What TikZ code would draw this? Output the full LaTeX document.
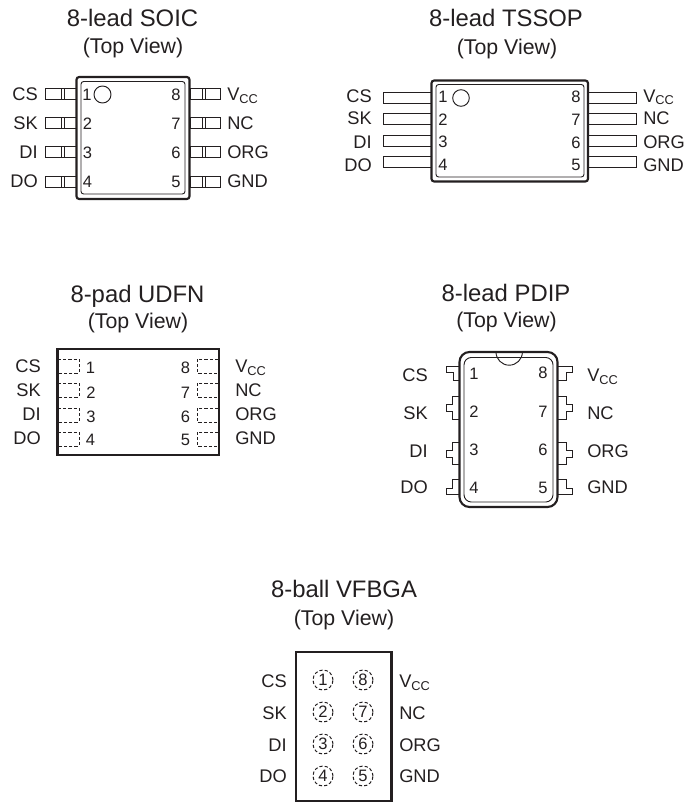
\documentclass[tikz,border=0pt]{standalone}
\usepackage{fontspec}
\setmainfont{Liberation Sans}
\usepackage{xcolor}
\definecolor{inkline}{HTML}{231F20}
\tikzset{
  titletext/.style={inner sep=0pt,text=inkline,font=\fontsize{17.9}{20}\selectfont,text height=12.8pt,text depth=0pt},
  viewtext/.style={inner sep=0pt,text=inkline,font=\fontsize{16}{18}\selectfont,text height=11.5pt,text depth=0pt},
  pinname/.style={inner sep=0pt,text=inkline,font=\fontsize{13.7}{16}\selectfont,text height=9.8pt,text depth=0pt},
  pinleft/.style={pinname,anchor=east},
  pinright/.style={pinname,anchor=west},
  pinnum/.style={inner sep=0pt,text=inkline,font=\fontsize{12.4}{14}\selectfont,text height=8.9pt,text depth=0pt},
  bodyline/.style={draw=inkline,line width=1.6pt},
  innerline/.style={draw=inkline,line width=0.7pt},
  leadline/.style={draw=inkline,line width=0.75pt},
  padline/.style={draw=inkline,line width=0.75pt,dash pattern=on 2.4pt off 1.5pt},
  ballline/.style={draw=inkline,line width=0.75pt,dash pattern=on 2.4pt off 1.6pt}
}
\begin{document}
\begin{tikzpicture}[x=0.75pt,y=0.75pt]
\useasboundingbox (0,0) rectangle (696,-802);
% SOIC
\node [titletext] (soictitle) at (132.5,-18) {8-lead SOIC};
\node [viewtext] (soicview) at (133,-46) {(Top View)};
\draw [leadline] (45,-89) rectangle (76,-99.5);
\draw [leadline] (45,-118) rectangle (76,-128.5);
\draw [leadline] (45,-147) rectangle (76,-157.5);
\draw [leadline] (45,-177) rectangle (76,-187.5);
\draw [leadline] (61,-89) -- (61,-99.5) (64,-89) -- (64,-99.5);
\draw [leadline] (61,-118) -- (61,-128.5) (64,-118) -- (64,-128.5);
\draw [leadline] (61,-147) -- (61,-157.5) (64,-147) -- (64,-157.5);
\draw [leadline] (61,-177) -- (61,-187.5) (64,-177) -- (64,-187.5);
\draw [leadline] (190,-89) rectangle (220,-99.5);
\draw [leadline] (190,-118) rectangle (220,-128.5);
\draw [leadline] (190,-147) rectangle (220,-157.5);
\draw [leadline] (190,-177) rectangle (220,-187.5);
\draw [leadline] (202,-89) -- (202,-99.5) (205,-89) -- (205,-99.5);
\draw [leadline] (202,-118) -- (202,-128.5) (205,-118) -- (205,-128.5);
\draw [leadline] (202,-147) -- (202,-157.5) (205,-147) -- (205,-157.5);
\draw [leadline] (202,-177) -- (202,-187.5) (205,-177) -- (205,-187.5);
\draw [bodyline,fill=white,rounded corners=2pt] (76.5,-77) rectangle (189.5,-199);
\draw [innerline,rounded corners=2pt] (81,-81.5) rectangle (185,-194);
\draw [innerline] (102.5,-94.5) circle (8.5);
\node [pinnum] (soicone) at (87,-95) {1};
\node [pinnum] (soictwo) at (87.5,-124) {2};
\node [pinnum] (soicthree) at (87.5,-153) {3};
\node [pinnum] (soicfour) at (87.5,-181.5) {4};
\node [pinnum] (soiceight) at (176,-95) {8};
\node [pinnum] (soicseven) at (176,-124) {7};
\node [pinnum] (soicsix) at (176,-153) {6};
\node [pinnum] (soicfive) at (176,-181.5) {5};
\node [pinleft] (soiccs) at (38,-94) {CS};
\node [pinleft] (soicsk) at (38,-123) {SK};
\node [pinleft] (soicdi) at (38,-152) {DI};
\node [pinleft] (soicdo) at (38,-181) {DO};
\node [pinright] (soicvcc) at (227,-94) {V\textsubscript{CC}};
\node [pinright] (soicnc) at (227,-122.5) {NC};
\node [pinright] (soicorg) at (227,-152) {ORG};
\node [pinright] (soicgnd) at (227,-181) {GND};
% TSSOP
\node [titletext] (tssoptitle) at (506,-18) {8-lead TSSOP};
\node [viewtext] (tssopview) at (507,-47) {(Top View)};
\draw [leadline] (383,-93) rectangle (431,-104);
\draw [leadline] (383,-114) rectangle (431,-125);
\draw [leadline] (383,-136) rectangle (431,-147);
\draw [leadline] (383,-157) rectangle (431,-168);
\draw [leadline] (588,-93) rectangle (636,-104);
\draw [leadline] (588,-114) rectangle (636,-125);
\draw [leadline] (588,-136) rectangle (636,-147);
\draw [leadline] (588,-157) rectangle (636,-168);
\draw [bodyline,fill=white,rounded corners=2pt] (431.5,-80.5) rectangle (588,-181.5);
\draw [innerline,rounded corners=2pt] (436,-84.5) rectangle (584,-177);
\draw [innerline] (461,-98) circle (8.3);
\node [pinnum] (tssopone) at (443,-97) {1};
\node [pinnum] (tssoptwo) at (443,-119.5) {2};
\node [pinnum] (tssopthree) at (443,-142) {3};
\node [pinnum] (tssopfour) at (443,-164.5) {4};
\node [pinnum] (tssopeight) at (576,-97) {8};
\node [pinnum] (tssopseven) at (576,-119.5) {7};
\node [pinnum] (tssopsix) at (576,-142.5) {6};
\node [pinnum] (tssopfive) at (576,-164.5) {5};
\node [pinleft] (tssopcs) at (372,-95.5) {CS};
\node [pinleft] (tssopsk) at (372,-118) {SK};
\node [pinleft] (tssopdi) at (372,-142) {DI};
\node [pinleft] (tssopdo) at (372,-165) {DO};
\node [pinright] (tssopvcc) at (643,-95.5) {V\textsubscript{CC}};
\node [pinright] (tssopnc) at (643,-118) {NC};
\node [pinright] (tssoporg) at (643,-142) {ORG};
\node [pinright] (tssopgnd) at (643,-165) {GND};
% UDFN
\node [titletext] (udfntitle) at (137.5,-294) {8-pad UDFN};
\node [viewtext] (udfnview) at (138,-321) {(Top View)};
\draw [bodyline] (57.5,-349) rectangle (219,-455);
\draw [padline] (58,-359) -- (79,-359) -- (79,-373) -- (58,-373);
\draw [padline] (58,-383) -- (79,-383) -- (79,-397) -- (58,-397);
\draw [padline] (58,-408) -- (79,-408) -- (79,-422) -- (58,-422);
\draw [padline] (58,-432) -- (79,-432) -- (79,-446) -- (58,-446);
\draw [padline] (218,-359) -- (197,-359) -- (197,-373) -- (218,-373);
\draw [padline] (218,-383) -- (197,-383) -- (197,-397) -- (218,-397);
\draw [padline] (218,-408) -- (197,-408) -- (197,-422) -- (218,-422);
\draw [padline] (218,-432) -- (197,-432) -- (197,-446) -- (218,-446);
\node [pinnum] (udfnone) at (90.5,-368) {1};
\node [pinnum] (udfntwo) at (91,-392.5) {2};
\node [pinnum] (udfnthree) at (91,-416.5) {3};
\node [pinnum] (udfnfour) at (90.5,-440) {4};
\node [pinnum] (udfneight) at (185.5,-368) {8};
\node [pinnum] (udfnseven) at (185.5,-392.5) {7};
\node [pinnum] (udfnsix) at (185.5,-416.5) {6};
\node [pinnum] (udfnfive) at (185.5,-440) {5};
\node [pinleft] (udfncs) at (41,-366) {CS};
\node [pinleft] (udfnsk) at (41,-390) {SK};
\node [pinleft] (udfndi) at (41,-414) {DI};
\node [pinleft] (udfndo) at (41,-438) {DO};
\node [pinright] (udfnvcc) at (235,-366) {V\textsubscript{CC}};
\node [pinright] (udfnnc) at (235,-390) {NC};
\node [pinright] (udfnorg) at (235,-414) {ORG};
\node [pinright] (udfngnd) at (235,-438) {GND};
% PDIP
\node [titletext] (pdiptitle) at (506,-293) {8-lead PDIP};
\node [viewtext] (pdipview) at (506.5,-320) {(Top View)};
\draw [leadline] (460,-366) -- (446,-366) -- (446,-372) -- (453,-372) -- (453,-380) -- (460,-380);
\draw [leadline] (460,-396) -- (452,-396) -- (452,-404) -- (446,-404) -- (446,-411) -- (452,-411) -- (452,-419) -- (460,-419);
\draw [leadline] (460,-442) -- (452,-442) -- (452,-450) -- (446,-450) -- (446,-457) -- (452,-457) -- (452,-464) -- (460,-464);
\draw [leadline] (460,-479) -- (452,-479) -- (452,-488) -- (446,-488) -- (446,-494) -- (460,-494);
\draw [leadline] (558,-366) -- (572,-366) -- (572,-372) -- (566,-372) -- (566,-380) -- (558,-380);
\draw [leadline] (558,-396) -- (566,-396) -- (566,-404) -- (572,-404) -- (572,-411) -- (566,-411) -- (566,-419) -- (558,-419);
\draw [leadline] (558,-442) -- (566,-442) -- (566,-450) -- (572,-450) -- (572,-457) -- (566,-457) -- (566,-464) -- (558,-464);
\draw [leadline] (558,-479) -- (566,-479) -- (566,-488) -- (572,-488) -- (572,-494) -- (558,-494);
\draw [bodyline,rounded corners=7.5pt] (459.5,-352) rectangle (557.5,-507);
\draw [innerline,rounded corners=5.5pt] (464,-357.5) rectangle (553,-502);
\draw [innerline] (496,-352) arc [start angle=180,end angle=360,radius=13.2];
\node [pinnum] (pdipone) at (474,-374) {1};
\node [pinnum] (pdiptwo) at (474,-412) {2};
\node [pinnum] (pdipthree) at (474,-450) {3};
\node [pinnum] (pdipfour) at (474,-488) {4};
\node [pinnum] (pdipeight) at (543,-373) {8};
\node [pinnum] (pdipseven) at (543,-412) {7};
\node [pinnum] (pdipsix) at (543,-450) {6};
\node [pinnum] (pdipfive) at (543,-488) {5};
\node [pinleft] (pdipcs) at (428,-375) {CS};
\node [pinleft] (pdipsk) at (428,-413) {SK};
\node [pinleft] (pdipdi) at (428,-451) {DI};
\node [pinleft] (pdipdo) at (428,-487) {DO};
\node [pinright] (pdipvcc) at (587,-375) {V\textsubscript{CC}};
\node [pinright] (pdipnc) at (587,-413) {NC};
\node [pinright] (pdiporg) at (587,-451) {ORG};
\node [pinright] (pdipgnd) at (587,-487) {GND};
% VFBGA
\node [titletext] (vfbgatitle) at (344,-589) {8-ball VFBGA};
\node [viewtext] (vfbgaview) at (344,-618) {(Top View)};
\draw [bodyline] (296,-652) rectangle (391.5,-801);
\node [ballline,circle,inner sep=0pt,minimum width=15pt] (ballone) at (323,-680) {};
\node [ballline,circle,inner sep=0pt,minimum width=15pt] (balltwo) at (323,-712) {};
\node [ballline,circle,inner sep=0pt,minimum width=15pt] (ballthree) at (323,-744) {};
\node [ballline,circle,inner sep=0pt,minimum width=15pt] (ballfour) at (323,-776) {};
\node [ballline,circle,inner sep=0pt,minimum width=15pt] (balleight) at (363,-680) {};
\node [ballline,circle,inner sep=0pt,minimum width=15pt] (ballseven) at (363,-712) {};
\node [ballline,circle,inner sep=0pt,minimum width=15pt] (ballsix) at (363,-744) {};
\node [ballline,circle,inner sep=0pt,minimum width=15pt] (ballfive) at (363,-776) {};
\node [pinnum] (numone) at (ballone) {1};
\node [pinnum] (numtwo) at (balltwo) {2};
\node [pinnum] (numthree) at (ballthree) {3};
\node [pinnum] (numfour) at (ballfour) {4};
\node [pinnum] (numeight) at (balleight) {8};
\node [pinnum] (numseven) at (ballseven) {7};
\node [pinnum] (numsix) at (ballsix) {6};
\node [pinnum] (numfive) at (ballfive) {5};
\node [pinleft] (vfbgacs) at (287,-681) {CS};
\node [pinleft] (vfbgask) at (287,-713) {SK};
\node [pinleft] (vfbgadi) at (287,-745) {DI};
\node [pinleft] (vfbgado) at (287,-776) {DO};
\node [pinright] (vfbgavcc) at (399,-681) {V\textsubscript{CC}};
\node [pinright] (vfbganc) at (399,-713) {NC};
\node [pinright] (vfbgaorg) at (399,-745) {ORG};
\node [pinright] (vfbgagnd) at (399,-776) {GND};
\end{tikzpicture}
\end{document}
